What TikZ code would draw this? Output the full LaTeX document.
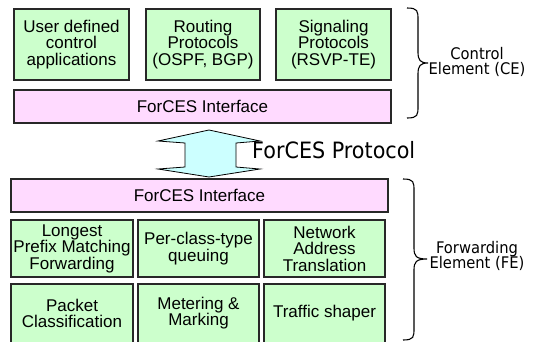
\documentclass[tikz,border=0pt]{standalone}
\usepackage{fontspec}
\newfontfamily\boxfont{Liberation Sans}
\newfontfamily\labfont[FakeStretch=0.92]{DejaVu Sans}
\definecolor{boxgreen}{RGB}{204,255,204}
\definecolor{boxpink}{RGB}{255,218,255}
\definecolor{arrowcyan}{RGB}{204,255,255}
\definecolor{edgegray}{RGB}{40,40,40}
\tikzset{
  gbox/.style={draw=edgegray, line width=1.3pt, fill=boxgreen, align=center,
    inner sep=0pt, font=\boxfont\fontsize{17}{16.5}\selectfont},
  pbox/.style={draw=edgegray, line width=1.3pt, fill=boxpink, align=center,
    inner sep=0pt, font=\boxfont\fontsize{17}{16.5}\selectfont},
  sidelabel/.style={align=center, inner sep=0pt, font=\labfont\fontsize{16}{15.5}\selectfont},
  bracepath/.style={draw=black, line width=1.1pt},
}
\begin{document}
\begin{tikzpicture}[x=1pt,y=-1pt]
\useasboundingbox (0,0) rectangle (533,341);
% CE boxes
\node[gbox, minimum width=115pt, minimum height=71pt] (uda) at (71.5,44.5) {User defined\\control\\applications};
\node[gbox, minimum width=114pt, minimum height=71pt] (rp) at (203,44.5) {Routing\\Protocols\\(OSPF, BGP)};
\node[gbox, minimum width=115pt, minimum height=71pt] (sp) at (333.5,44.5) {Signaling\\Protocols\\(RSVP-TE)};
\node[pbox, minimum width=377pt, minimum height=33pt] (ceif) at (202.5,106.5) {ForCES Interface};
% FE boxes
\node[pbox, minimum width=377pt, minimum height=33pt] (feif) at (199.5,195.5) {ForCES Interface};
\node[gbox, minimum width=122pt, minimum height=57pt] (lpm) at (72,248.5) {Longest\\Prefix Matching\\Forwarding};
\node[gbox, minimum width=121pt, minimum height=57pt] (pcq) at (198.5,248.5) {Per-class-type\\queuing};
\node[gbox, minimum width=121pt, minimum height=57pt] (nat) at (324.5,248.5) {Network\\Address\\Translation};
\node[gbox, minimum width=122pt, minimum height=58.5pt] (pc) at (72,313.25) {Packet\\Classification};
\node[gbox, minimum width=121pt, minimum height=58.5pt] (mm) at (198.5,313.25) {Metering \&\\Marking};
\node[gbox, minimum width=121pt, minimum height=58.5pt] (ts) at (324.5,313.25) {Traffic shaper};
% double arrow
\draw[fill=arrowcyan, draw=black, line width=0.8pt, line join=miter]
  (209,130) -- (260,141) -- (236,143) -- (236,167) -- (260,169) -- (209,177)
  -- (158,169) -- (185,167) -- (185,143) -- (158,141) -- cycle;
\node[anchor=base west, inner sep=0pt, font=\labfont\fontsize{22.5}{24}\selectfont] (proto) at (252,158) {ForCES Protocol};
% braces
\draw[bracepath] (407,8) .. controls (418,8) and (418,11) .. (418,20) -- (418,52)
  .. controls (418,60) and (420,63) .. (428,63) .. controls (420,63) and (418,66) .. (418,74)
  -- (418,106) .. controls (418,115) and (418,118) .. (407,118);
\draw[bracepath] (403,179) .. controls (414,179) and (414,182) .. (414,191) -- (414,248)
  .. controls (414,256) and (416,259) .. (427,259) .. controls (416,259) and (414,262) .. (414,270)
  -- (414,328) .. controls (414,337) and (414,340) .. (403,340);
\node[sidelabel] (celab) at (477,62) {Control\\Element (CE)};
\node[sidelabel] (felab) at (477,256) {Forwarding\\Element (FE)};
\end{tikzpicture}
\end{document}
